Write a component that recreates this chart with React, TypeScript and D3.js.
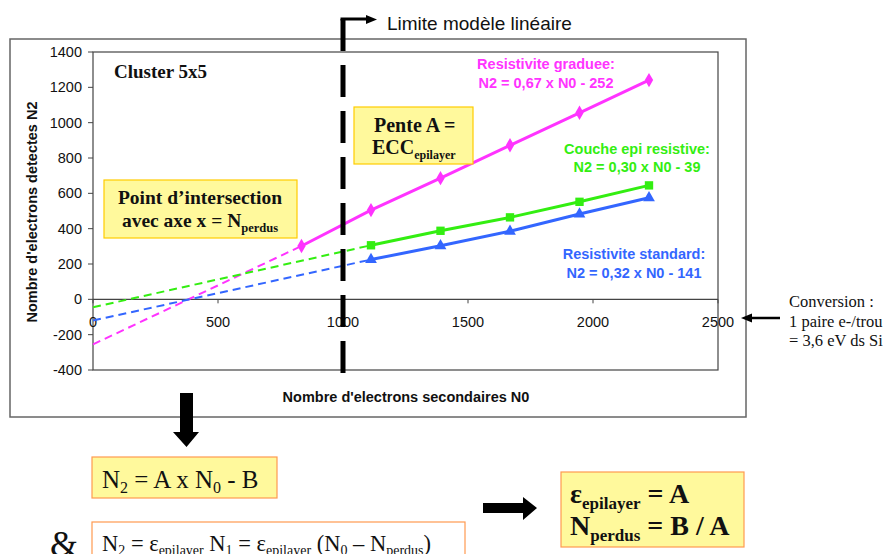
import React from 'react';
import * as d3 from 'd3';

// Valeurs (N0 -> N2)
const n0Points = [834, 1112, 1390, 1668, 1946, 2224];
const graduee = [302, 505, 686, 872, 1056, 1241];
const epiResistive = [306, 388, 464, 552, 645];
const standard = [225, 303, 385, 483, 575];
// ordonnees a l'origine des prolongements en pointilles
const intercepts = { graduee: -255, epi: -45, standard: -120 };

const xTicks = [0, 500, 1000, 1500, 2000, 2500];
const yTicks = [-400, -200, 0, 200, 400, 600, 800, 1000, 1200, 1400];
const limiteLineaire = 1000;

const SANS = '"Liberation Sans", Arial, sans-serif';
const SERIF = '"Liberation Serif", "Times New Roman", serif';

const MAGENTA = '#ff33ff';
const GREEN = '#33ee11';
const BLUE = '#3366ff';
const YELLOW = '#fff99c';
const GOLD = '#ffcc00';
const ORANGE = '#ff9a50';

type Pt = [number, number];

const App: React.FC = () => {
  const width = 887;
  const height = 554;
  const x = d3.scaleLinear().domain([0, 2500]).range([93, 718]);
  const y = d3.scaleLinear().domain([-400, 1400]).range([370, 52]);
  const line = d3.line<Pt>().x(d => x(d[0])).y(d => y(d[1]));

  const series = [
    { name: 'graduee', xs: n0Points, ys: graduee, color: MAGENTA, symbol: d3.symbolDiamond, size: 60, b: intercepts.graduee },
    { name: 'epi', xs: n0Points.slice(1), ys: epiResistive, color: GREEN, symbol: d3.symbolSquare, size: 70, b: intercepts.epi },
    { name: 'standard', xs: n0Points.slice(1), ys: standard, color: BLUE, symbol: d3.symbolTriangle, size: 60, b: intercepts.standard },
  ];

  const xLim = x(limiteLineaire);

  return (
    <svg width={width} height={height} style={{ position: 'absolute', left: 0, top: 0, background: '#fff' }}>
      {/* cadre exterieur */}
      <rect x={10} y={39} width={736} height={378} fill="#fff" stroke="#666" strokeWidth={1.5} />
      {/* zone de tracé */}
      <rect x={x(0)} y={y(1400)} width={x(2500) - x(0)} height={y(-400) - y(1400)} fill="#fff" stroke="#444" strokeWidth={1.2} />

      {/* axe Y */}
      {yTicks.map(t => (
        <g key={'y' + t}>
          <line x1={x(0) - 5} x2={x(0)} y1={y(t)} y2={y(t)} stroke="#444" />
          <text x={x(0) - 11} y={y(t)} dy="0.35em" textAnchor="end" fontFamily={SANS} fontSize={14.5} fill="#111">{t}</text>
        </g>
      ))}
      {/* axe X a y = 0 */}
      <line x1={x(0)} x2={x(2500)} y1={y(0)} y2={y(0)} stroke="#444" strokeWidth={1.2} />
      {xTicks.map(t => (
        <g key={'x' + t}>
          <line x1={x(t)} x2={x(t)} y1={y(0)} y2={y(0) + 4} stroke="#444" />
          <text x={x(t)} y={y(0) + 28} textAnchor="middle" fontFamily={SANS} fontSize={14.5} fill="#111">{t}</text>
        </g>
      ))}

      <text transform="translate(37,212) rotate(-90)" textAnchor="middle" fontFamily={SANS} fontWeight="bold" fontSize={14.5} fill="#111">
        Nombre d'electrons detectes N2
      </text>
      <text x={406} y={402} textAnchor="middle" fontFamily={SANS} fontWeight="bold" fontSize={14.5} fill="#111">
        Nombre d'electrons secondaires N0
      </text>

      <text x={114} y={78} fontFamily={SERIF} fontWeight="bold" fontSize={19} fill="#111">Cluster 5x5</text>

      {/* prolongements en pointilles */}
      {series.map(s => (
        <path key={'d' + s.name} d={line([[0, s.b], [s.xs[0], s.ys[0]]]) || ''} fill="none" stroke={s.color} strokeWidth={2} strokeDasharray="8 5" />
      ))}
      {/* series */}
      {series.map(s => {
        const pts: Pt[] = s.xs.map((v, i) => [v, s.ys[i]]);
        const sym = d3.symbol().type(s.symbol).size(s.size)();
        return (
          <g key={s.name}>
            <path d={line(pts) || ''} fill="none" stroke={s.color} strokeWidth={3} />
            {pts.map((p, i) => (
              <path key={i} d={sym || ''} transform={`translate(${x(p[0])},${y(p[1])})`} fill={s.color} />
            ))}
          </g>
        );
      })}

      {/* libelles des series */}
      <g fontFamily={SANS} fontWeight="bold" fontSize={14.5} textAnchor="middle">
        <text x={546} y={69} fill={MAGENTA}>Resistivite graduee:</text>
        <text x={546} y={88} fill={MAGENTA}>N2 = 0,67 x N0 - 252</text>
        <text x={637} y={154} fill={GREEN}>Couche epi resistive:</text>
        <text x={637} y={172} fill={GREEN}>N2 = 0,30 x N0 - 39</text>
        <text x={634} y={259} fill={BLUE}>Resistivite standard:</text>
        <text x={634} y={278} fill={BLUE}>N2 = 0,32 x N0 - 141</text>
      </g>

      {/* boites jaunes */}
      <rect x={104} y={180} width={193} height={58} fill={YELLOW} stroke={GOLD} strokeWidth={1.2} />
      <text x={200} y={204} textAnchor="middle" fontFamily={SERIF} fontWeight="bold" fontSize={19.5} fill="#111">Point d’intersection</text>
      <text x={200} y={227} textAnchor="middle" fontFamily={SERIF} fontWeight="bold" fontSize={19.5} fill="#111">
        avec axe x = N<tspan fontSize={12.5} dy={5}>perdus</tspan>
      </text>

      <rect x={354} y={107} width={119} height={57} fill={YELLOW} stroke={GOLD} strokeWidth={1.2} />
      <text x={374} y={132} fontFamily={SERIF} fontWeight="bold" fontSize={20} fill="#111">Pente A =</text>
      <text x={372} y={154} fontFamily={SERIF} fontWeight="bold" fontSize={20} fill="#111">
        ECC<tspan fontSize={12} dy={5}>epilayer</tspan>
      </text>

      {/* limite du modele lineaire */}
      <line x1={xLim} x2={xLim} y1={19} y2={373} stroke="#000" strokeWidth={5} strokeDasharray="32 14" />
      <line x1={xLim - 2.5} x2={368} y1={19} y2={19} stroke="#000" strokeWidth={3} />
      <path d="M366,15 L377,19.5 L366,24 Z" fill="#000" />
      <text x={387} y={30} fontFamily={SANS} fontSize={19} fill="#111">Limite modèle linéaire</text>

      {/* conversion */}
      <line x1={780} x2={750} y1={318} y2={318} stroke="#000" strokeWidth={2.5} />
      <path d="M752,313.5 L741,318 L752,322.5 Z" fill="#000" />
      <g fontFamily={SERIF} fontSize={16.5} fill="#111">
        <text x={789} y={307}>Conversion :</text>
        <text x={789} y={327}>1 paire e-/trou</text>
        <text x={789} y={346}>= 3,6 eV ds Si</text>
      </g>

      {/* fleche vers le bas */}
      <path d="M180,393 L193,393 L193,432 L199,432 L186.5,447 L173,432 L180,432 Z" fill="#000" />

      <rect x={92} y={457} width={185} height={41} fill={YELLOW} stroke={ORANGE} strokeWidth={1.2} />
      <text x={102} y={488} fontFamily={SERIF} fontSize={25} fill="#111">
        N<tspan fontSize={16} dy={5}>2</tspan><tspan dy={-5}> = A x N</tspan><tspan fontSize={16} dy={5}>0</tspan><tspan dy={-5}> - B</tspan>
      </text>

      <text x={50} y={556} fontFamily={SERIF} fontSize={36} fill="#111">&amp;</text>
      <rect x={92} y={522} width={373} height={50} fill="#fff" stroke={ORANGE} strokeWidth={1.2} />
      <text x={102} y={551} fontFamily={SERIF} fontSize={22.5} fill="#111">
        N<tspan fontSize={14} dy={4}>2</tspan><tspan dy={-4}> = ε</tspan><tspan fontSize={14} dy={4}>epilayer</tspan><tspan dy={-4}> N</tspan><tspan fontSize={14} dy={4}>1</tspan><tspan dy={-4}> = ε</tspan><tspan fontSize={14} dy={4}>epilayer</tspan><tspan dy={-4}> (N</tspan><tspan fontSize={14} dy={4}>0</tspan><tspan dy={-4}> – N</tspan><tspan fontSize={14} dy={4}>perdus</tspan><tspan dy={-4}>)</tspan>
      </text>

      {/* fleche vers la droite */}
      <path d="M483,503 L523,503 L523,497 L537,508 L523,520 L523,513 L483,513 Z" fill="#000" />

      <rect x={561} y={472} width={183} height={75} fill={YELLOW} stroke={ORANGE} strokeWidth={1.2} />
      <text x={570} y={503} fontFamily={SERIF} fontWeight="bold" fontSize={28} fill="#111">
        ε<tspan fontSize={17} dy={6}>epilayer</tspan><tspan dy={-6}> = A</tspan>
      </text>
      <text x={570} y={535} fontFamily={SERIF} fontWeight="bold" fontSize={28} fill="#111">
        N<tspan fontSize={17} dy={6}>perdus</tspan><tspan dy={-6}> = B / A</tspan>
      </text>
    </svg>
  );
};

export default App;
